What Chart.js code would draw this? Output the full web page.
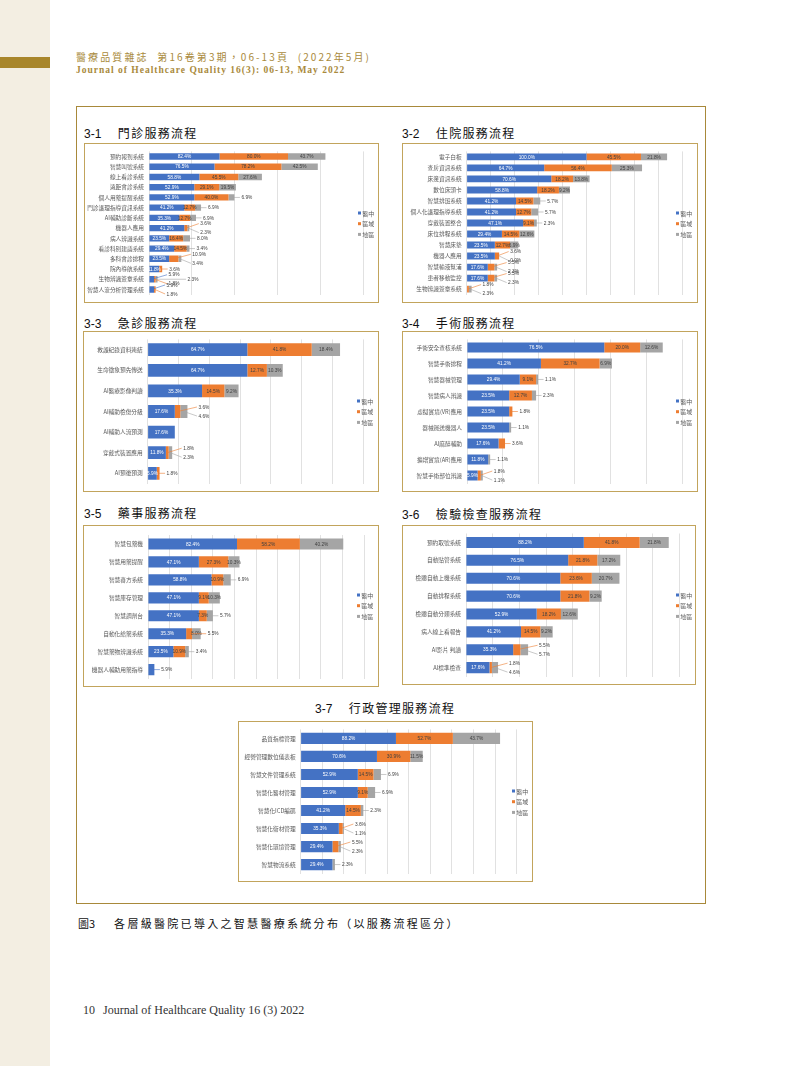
<!DOCTYPE html>
<html lang="zh-Hant">
<head>
<meta charset="utf-8">
<title>圖3 各層級醫院已導入之智慧醫療系統分布</title>
<script src="https://cdn.jsdelivr.net/npm/chart.js@4.4.1/dist/chart.umd.min.js"></script>
<style>
  html, body { margin: 0; padding: 0; background: #fff; }
  body { position: relative; width: 800px; height: 1066px; overflow: hidden;
         font-family: "Noto Sans CJK TC", "Noto Sans", sans-serif; }
  .strip { position: absolute; left: 0; top: 0; width: 50px; height: 1066px; background: #f3eee2; }
  .goldbar { position: absolute; left: 0; top: 57px; width: 50px; height: 10.5px; background: #a8862b; }
  .head1 { position: absolute; left: 76px; top: 50.5px; font-size: 10px; line-height: 12px;
           color: #a98a3c; letter-spacing: 2.1px; white-space: nowrap; }
  .head2 { position: absolute; left: 76px; top: 64px; font-family: "Liberation Serif", serif;
           font-size: 9.5px; line-height: 12px; color: #a98a3c; font-weight: bold;
           letter-spacing: 1px; white-space: nowrap; }
  .frame { position: absolute; left: 76px; top: 106px; width: 628px; height: 796px;
           border: 1.5px solid #a8893a; }
  .ttl { position: absolute; font-size: 12px; line-height: 16px; color: #111; white-space: nowrap; }
  .ttl .num { font-family: "Liberation Sans", sans-serif; }
  .ttl .name { margin-left: 16.5px; letter-spacing: 1.3px; }
  .box { position: absolute; outline: 1px solid #c2a45c; outline-offset: -1px; }
  .box canvas { position: absolute; left: 0; top: 0; }
  .caption { position: absolute; left: 78px; top: 916px; font-size: 11px; line-height: 15px;
             color: #111; white-space: nowrap; }
  .caption .name { margin-left: 19px; letter-spacing: 2.3px; }
  .footer { position: absolute; left: 83px; top: 1003px; font-family: "Liberation Serif", serif;
            font-size: 12px; line-height: 14px; color: #333; white-space: nowrap; }
  .footer .name { margin-left: 8px; }
</style>
</head>
<body>
<div class="strip"></div>
<div class="goldbar"></div>
<div class="head1">醫療品質雜誌&nbsp;&nbsp;第16卷第3期，06-13頁&nbsp;&nbsp;(2022年5月)</div>
<div class="head2">Journal of Healthcare Quality 16(3): 06-13, May 2022</div>
<div class="frame"></div>

<div class="ttl" style="left:84px;top:125.3px"><span class="num">3-1</span><span class="name">門診服務流程</span></div>
<div class="ttl" style="left:402px;top:125.3px"><span class="num">3-2</span><span class="name">住院服務流程</span></div>
<div class="ttl" style="left:84px;top:314.7px"><span class="num">3-3</span><span class="name">急診服務流程</span></div>
<div class="ttl" style="left:402px;top:314.7px"><span class="num">3-4</span><span class="name">手術服務流程</span></div>
<div class="ttl" style="left:84px;top:505.3px"><span class="num">3-5</span><span class="name">藥事服務流程</span></div>
<div class="ttl" style="left:402px;top:506px"><span class="num">3-6</span><span class="name">檢驗檢查服務流程</span></div>
<div class="ttl" style="left:315px;top:699.7px"><span class="num">3-7</span><span class="name">行政管理服務流程</span></div>

<div class="box" style="left:84px;top:143px;width:295px;height:160px"><canvas id="c1" width="295" height="160"></canvas></div>
<div class="box" style="left:402px;top:143px;width:296px;height:160px"><canvas id="c2" width="296" height="160"></canvas></div>
<div class="box" style="left:83px;top:331px;width:296px;height:161px"><canvas id="c3" width="296" height="161"></canvas></div>
<div class="box" style="left:402px;top:331px;width:296px;height:161px"><canvas id="c4" width="296" height="161"></canvas></div>
<div class="box" style="left:83px;top:525px;width:296px;height:162px"><canvas id="c5" width="296" height="162"></canvas></div>
<div class="box" style="left:402px;top:525px;width:294px;height:160px"><canvas id="c6" width="294" height="160"></canvas></div>
<div class="box" style="left:238px;top:721px;width:295px;height:161px"><canvas id="c7" width="295" height="161"></canvas></div>

<div class="caption"><span>圖3</span><span class="name">各層級醫院已導入之智慧醫療系統分布（以服務流程區分）</span></div>
<div class="footer"><span>10</span><span class="name">Journal of Healthcare Quality 16 (3) 2022</span></div>

<script>
"use strict";

// series: hospital levels
const seriesNames = ["醫中", "區域", "地區"];

// 3-1 門診服務流程
const outpatientLabels = ["預約報到系統", "智慧叫號系統", "線上看診系統", "遠距會診系統", "個人用藥提醒系統",
  "門診護理指導資訊系統", "AI輔助診斷系統", "機器人應用", "病人辨識系統", "看診科別建議系統",
  "多科會診排程", "院內導航系統", "生物辨識簽章系統", "智慧人流分析管理系統"];
const outpatientMedical  = [82.4, 76.5, 58.8, 52.9, 52.9, 41.2, 35.3, 41.2, 23.5, 29.4, 23.5, 11.8, 5.9, 5.9];
const outpatientRegional = [80.0, 78.2, 45.5, 29.1, 40.0, 12.7, 12.7, 3.6, 16.4, 14.5, 10.9, 3.6, 1.8, 1.8];
const outpatientDistrict = [43.7, 42.5, 27.6, 19.5, 6.9, 6.9, 6.9, 2.3, 8.0, 3.4, 3.4, null, 2.3, null];

// 3-2 住院服務流程
const inpatientLabels = ["電子白板", "查房資訊系統", "床邊資訊系統", "數位床頭卡", "智慧排班系統",
  "個人化護理指導系統", "穿戴裝置整合", "床位排程系統", "智慧床墊", "機器人應用",
  "智慧輸液幫浦", "患者移動監控", "生物辨識簽章系統"];
const inpatientMedical  = [100.0, 64.7, 70.6, 58.8, 41.2, 41.2, 47.1, 29.4, 23.5, 23.5, 17.6, 17.6, null];
const inpatientRegional = [45.5, 56.4, 18.2, 18.2, 14.5, 12.7, 9.1, 14.5, 12.7, 3.6, 5.5, 5.5, 1.8];
const inpatientDistrict = [21.8, 25.3, 13.8, 9.2, 5.7, 5.7, 2.3, 12.6, 6.9, 0.0, 2.3, 2.3, 2.3];

// 3-3 急診服務流程
const emergencyLabels = ["救護紀錄資料連結", "生命徵象預先傳送", "AI醫療影像判讀", "AI輔助檢傷分級",
  "AI輔助人流預測", "穿戴式裝置應用", "AI預後預測"];
const emergencyMedical  = [64.7, 64.7, 35.3, 17.6, 17.6, 11.8, 5.9];
const emergencyRegional = [41.8, 12.7, 14.5, 3.6, null, 1.8, 1.8];
const emergencyDistrict = [18.4, 10.3, 9.2, 4.6, null, 2.3, null];

// 3-4 手術服務流程
const surgeryLabels = ["手術安全查核系統", "智慧手術排程", "智慧器械管理", "智慧病人辨識", "虛擬實境(VR)應用",
  "器械運送機器人", "AI麻醉輔助", "擴增實境(AR)應用", "智慧手術部位辨識"];
const surgeryMedical  = [76.5, 41.2, 29.4, 23.5, 23.5, 23.5, 17.6, 11.8, 5.9];
const surgeryRegional = [20.0, 32.7, 9.1, 12.7, 1.8, null, 3.6, null, 1.8];
const surgeryDistrict = [12.6, 6.9, 1.1, 2.3, null, 1.1, null, 1.1, 1.1];

// 3-5 藥事服務流程
const pharmacyLabels = ["智慧包藥機", "智慧用藥提醒", "智慧審方系統", "智慧庫存管理", "智慧調劑台",
  "自動化給藥系統", "智慧藥物辨識系統", "機器人輔助用藥指導"];
const pharmacyMedical  = [82.4, 47.1, 58.8, 47.1, 47.1, 35.3, 23.5, 5.9];
const pharmacyRegional = [58.2, 27.3, 10.9, 9.1, 7.3, 5.5, 10.9, null];
const pharmacyDistrict = [40.2, 10.3, 6.9, 10.3, 5.7, 8.0, 3.4, null];

// 3-6 檢驗檢查服務流程
const labLabels = ["預約取號系統", "自動貼管系統", "檢體自動上機系統", "自動排程系統", "檢體自動分類系統",
  "病人線上看報告", "AI影片 判讀", "AI標準檢查"];
const labMedical  = [88.2, 76.5, 70.6, 70.6, 52.9, 41.2, 35.3, 17.6];
const labRegional = [41.8, 21.8, 23.6, 21.8, 18.2, 14.5, 5.5, 1.8];
const labDistrict = [21.8, 17.2, 20.7, 9.2, 12.6, 9.2, 5.7, 4.6];

// 3-7 行政管理服務流程
const adminLabels = ["品質指標管理", "經營管理數位儀表板", "智慧文件管理系統", "智慧化醫材管理", "智慧化ICD編碼",
  "智慧化衛材管理", "智慧化環境管理", "智慧物流系統"];
const adminMedical  = [88.2, 70.6, 52.9, 52.9, 41.2, 35.3, 29.4, 29.4];
const adminRegional = [52.7, 30.9, 14.5, 9.1, 14.5, 3.6, 5.5, null];
const adminDistrict = [43.7, 11.5, 6.9, 6.9, 2.3, 1.1, 2.3, 2.3];

const COLORS = ["#4472c4", "#ed7d31", "#a5a5a5"];
const CJK = '"Noto Sans CJK TC", "Noto Sans", sans-serif';
const LABEL_FONT = '4.8px "Liberation Sans", sans-serif';
const FIT = 0.72; // share of text width a segment needs to hold its label

// segment values: centred inside when they fit, otherwise pulled out with a leader line
const valueLabels = {
  id: "valueLabels",
  afterDatasetsDraw(chart) {
    const { ctx, data } = chart;
    const x0 = chart.scales.x.getPixelForValue(0);
    ctx.save();
    ctx.font = LABEL_FONT;
    ctx.textBaseline = "middle";
    ctx.lineWidth = 0.6;
    data.labels.forEach((_, r) => {
      let end = x0;
      const out = [];
      data.datasets.forEach((ds, d) => {
        const v = ds.data[r];
        if (v === null || v === undefined) return;
        const bar = chart.getDatasetMeta(d).data[r];
        const text = v.toFixed(1) + "%";
        const w = bar.x - bar.base;
        end = Math.max(end, bar.x);
        if (w > 0 && w >= ctx.measureText(text).width * FIT) {
          ctx.fillStyle = d === 0 ? "#ffffff" : "#404040";
          ctx.textAlign = "center";
          ctx.fillText(text, bar.base + w / 2, bar.y + 0.3);
        } else {
          out.push({ text, d, cx: bar.base + w / 2, y: bar.y });
        }
      });
      ctx.textAlign = "left";
      out.forEach((o, k) => {
        let tx, ty;
        if (out.length === 1) { tx = end + 7; ty = o.y; }
        else if (k < 2) { tx = end + 11; ty = o.y + (k === 0 ? -4.5 : 4.5); }
        else { tx = end + 30; ty = o.y; }
        ctx.strokeStyle = COLORS[o.d];
        ctx.beginPath();
        ctx.moveTo(o.cx, o.y);
        ctx.lineTo(tx - 1.5, ty);
        ctx.stroke();
        ctx.fillStyle = "#404040";
        ctx.fillText(o.text, tx, ty + 0.3);
      });
    });
    ctx.restore();
  },
};

// Excel-style vertical legend sitting at the right edge of the plot
const sideLegend = {
  id: "sideLegend",
  afterDraw(chart, args, opts) {
    const ctx = chart.ctx;
    ctx.save();
    ctx.font = "6px " + CJK;
    ctx.textBaseline = "middle";
    chart.data.datasets.forEach((ds, i) => {
      const y = opts.y + i * opts.gap;
      ctx.fillStyle = ds.backgroundColor;
      ctx.fillRect(opts.x, y - 1.5, 3, 3);
      ctx.fillStyle = "#595959";
      ctx.fillText(ds.label, opts.x + 4.3, y + 0.3);
    });
    ctx.restore();
  },
};

function makeChart(id, labels, series, max, step, box) {
  return new Chart(document.getElementById(id), {
    type: "bar",
    data: {
      labels,
      datasets: series.map((values, i) => ({
        label: seriesNames[i],
        data: values,
        backgroundColor: COLORS[i],
        borderWidth: 0,
        barPercentage: 0.62,
        categoryPercentage: 1,
      })),
    },
    options: {
      indexAxis: "y",
      responsive: false,
      animation: false,
      layout: { padding: { left: 0, top: box.top, bottom: box.bottom, right: box.right } },
      scales: {
        x: {
          stacked: true, min: 0, max, ticks: { display: false, stepSize: step },
          grid: { color: "#d9d9d9", lineWidth: 0.8, drawTicks: false },
          border: { display: false },
          afterFit: (s) => { s.height = 0; },
        },
        y: {
          stacked: true,
          ticks: { color: "#595959", padding: 5, autoSkip: false, font: { family: CJK, size: 5.7 } },
          grid: { display: false, drawTicks: false },
          border: { display: false },
          afterFit: (s) => { s.width = box.axis; },
        },
      },
      plugins: {
        legend: { display: false },
        tooltip: { enabled: false },
        sideLegend: { x: 274, y: 70, gap: 10.7 },
      },
    },
    plugins: [valueLabels, sideLegend],
  });
}

makeChart("c1", outpatientLabels, [outpatientMedical, outpatientRegional, outpatientDistrict], 250, 50,
  { axis: 65, top: 7.7, bottom: 4.4, right: 16 });
makeChart("c2", inpatientLabels, [inpatientMedical, inpatientRegional, inpatientDistrict], 180, 20,
  { axis: 64.7, top: 7.3, bottom: 4.6, right: 15.7 });
makeChart("c3", emergencyLabels, [emergencyMedical, emergencyRegional, emergencyDistrict], 140, 20,
  { axis: 64.7, top: 6.7, bottom: 5.7, right: 15.7 });
makeChart("c4", surgeryLabels, [surgeryMedical, surgeryRegional, surgeryDistrict], 120, 20,
  { axis: 65, top: 8, bottom: 3.7, right: 15.7 });
makeChart("c5", pharmacyLabels, [pharmacyMedical, pharmacyRegional, pharmacyDistrict], 200, 20,
  { axis: 65, top: 10, bottom: 2.7, right: 15 });
makeChart("c6", labLabels, [labMedical, labRegional, labDistrict], 160, 20,
  { axis: 64, top: 8.5, bottom: 4.1, right: 16.3 });
makeChart("c7", adminLabels, [adminMedical, adminRegional, adminDistrict], 200, 20,
  { axis: 62.7, top: 7.8, bottom: 1.5, right: 16.3 });
</script>
</body>
</html>
